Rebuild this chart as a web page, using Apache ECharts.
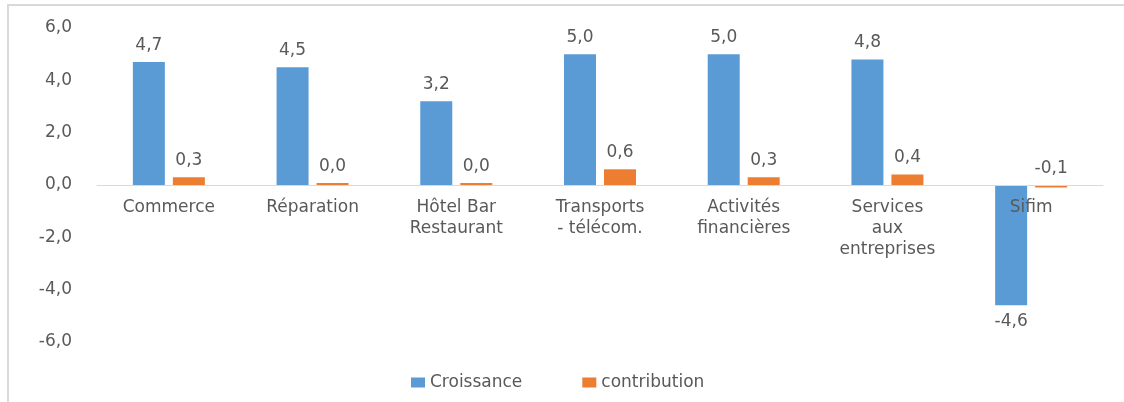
<!DOCTYPE html>
<html>
	<head>
		<meta charset="utf-8" />
		<title>Croissance et contribution</title>
		<script type="text/javascript" src="https://cdn.jsdelivr.net/npm/echarts@6/dist/echarts.min.js"></script>
		<style>
			body { margin: 0; background: #fff; }
			#frame { position: absolute; left: 7px; top: 4px; width: 1200px; height: 500px; border: 2px solid #d9d9d9; }
			#main { position: absolute; left: 0; top: 0; width: 1124px; height: 402px; }
		</style>
	</head>
	<body>
		<div id="frame"></div>
		<div id="main"></div>
		<script type="text/javascript">
		var categories = ['Commerce', 'Réparation', 'Hôtel Bar\nRestaurant', 'Transports\n- télécom.', 'Activités\nfinancières', 'Services\naux\nentreprises', 'Sifim'];
		var croissance = [4.7, 4.5, 3.2, 5.0, 5.0, 4.8, -4.6];
		var contribution = [0.3, 0.04, 0.04, 0.6, 0.3, 0.4, -0.1];
		var yTicks = [-6, -4, -2, 0, 2, 4, 6];

		var textColor = '#595959';
		var font = 'DejaVu Sans';
		var gridTop = 28, gridBottom = 60;
		var plotH = 402 - gridTop - gridBottom;

		function fmt(v) {
			return Number(v).toFixed(1).replace('.', ',');
		}

		// big negative bars get their label underneath, the rest on top
		function withLabels(arr) {
			return arr.map(function (v) {
				return { value: v, label: { position: v < -0.5 ? 'bottom' : 'top' } };
			});
		}

		var yMin = yTicks[0], yMax = yTicks[yTicks.length - 1];
		// category axis sits on the zero line, labels included
		var zeroOffset = -plotH * (0 - yMin) / (yMax - yMin);

		var barLabel = {
			show: true,
			distance: 8,
			color: textColor,
			fontFamily: font,
			fontSize: 17,
			formatter: function (p) { return fmt(p.value); }
		};

		var option = {
			animation: false,
			textStyle: { fontFamily: font },
			grid: { left: 97, right: 21, top: gridTop, bottom: gridBottom, outerBoundsMode: 'none', containLabel: false },
			legend: {
				left: 406,
				top: 369,
				icon: 'rect',
				itemWidth: 14,
				itemHeight: 10,
				itemGap: 60,
				textStyle: { color: textColor, fontFamily: font, fontSize: 17 },
				data: ['Croissance', 'contribution']
			},
			xAxis: {
				type: 'category',
				data: categories,
				z: 5,
				position: 'bottom',
				offset: zeroOffset,
				axisLine: { onZero: false, lineStyle: { color: '#d9d9d9', width: 1 } },
				axisTick: { show: false },
				axisLabel: { interval: 0, color: textColor, fontFamily: font, fontSize: 17, lineHeight: 21, margin: 12 }
			},
			yAxis: {
				type: 'value',
				min: yMin,
				max: yMax,
				interval: 2,
				splitLine: { show: false },
				axisLine: { show: false },
				axisTick: { show: false },
				axisLabel: { color: textColor, fontFamily: font, fontSize: 17, margin: 25, formatter: fmt }
			},
			series: [
				{
					name: 'Croissance',
					type: 'bar',
					barWidth: 32,
					barGap: '25%',
					itemStyle: { color: '#5b9bd5' },
					label: barLabel,
					data: withLabels(croissance)
				},
				{
					name: 'contribution',
					type: 'bar',
					barWidth: 32,
					barMinHeight: 2,
					itemStyle: { color: '#ed7d31' },
					label: barLabel,
					data: withLabels(contribution)
				}
			]
		};

		var myChart = echarts.init(document.getElementById('main'));
		myChart.setOption(option);
		</script>
	</body>
</html>
